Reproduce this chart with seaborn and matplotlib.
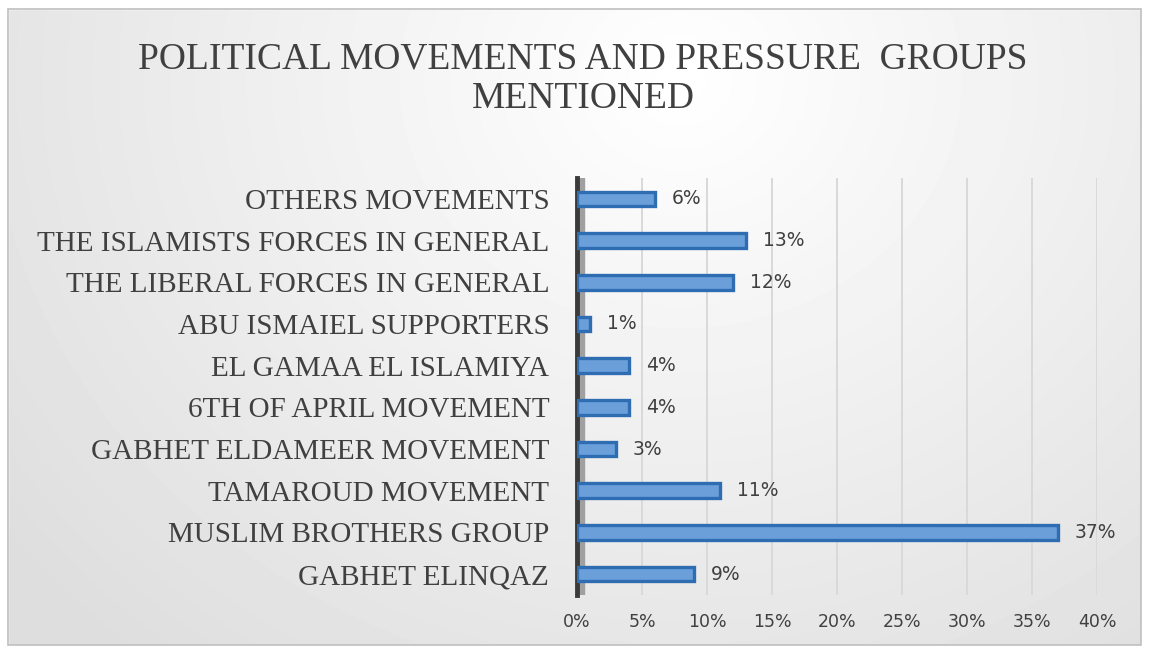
import numpy as np
import pandas as pd
import matplotlib
matplotlib.use("Agg")
import matplotlib.pyplot as plt
import seaborn as sns
from matplotlib.patches import Rectangle

# ---------- DATA ----------
GROUPS = [
    "OTHERS MOVEMENTS",
    "THE ISLAMISTS FORCES IN GENERAL",
    "THE LIBERAL FORCES IN GENERAL",
    "ABU ISMAIEL SUPPORTERS",
    "EL GAMAA EL ISLAMIYA",
    "6TH OF APRIL MOVEMENT",
    "GABHET ELDAMEER MOVEMENT",
    "TAMAROUD MOVEMENT",
    "MUSLIM BROTHERS GROUP",
    "GABHET ELINQAZ",
]
SHARES = [6, 13, 12, 1, 4, 4, 3, 11, 37, 9]
X_TICKS = [0, 5, 10, 15, 20, 25, 30, 35, 40]
TITLE = "POLITICAL MOVEMENTS AND PRESSURE  GROUPS\nMENTIONED"

df = pd.DataFrame({"group": GROUPS, "share": SHARES})

sns.set_theme(style="white")
plt.rcParams["font.family"] = ["Liberation Serif", "DejaVu Serif"]

W, H = 1149, 649
fig = plt.figure(figsize=(W / 100, H / 100), dpi=100)
fig.patch.set_facecolor("white")

# gradient background inside the border
bg = fig.add_axes([0, 0, 1, 1], zorder=-5)
yy, xx = np.mgrid[0:H, 0:W]
d = np.sqrt(((xx - 680) / 850.0) ** 2 + ((yy - 80) / 750.0) ** 2)
shade = 1.0 - 0.13 * np.clip(d, 0, 1)
bg.imshow(shade, cmap="gray", vmin=0, vmax=1, extent=[0, W, H, 0], aspect="auto")
bg.set_xlim(0, W)
bg.set_ylim(H, 0)
bg.add_patch(Rectangle((0, 0), W, 9, color="white"))
bg.add_patch(Rectangle((0, 645), W, 10, color="white"))
bg.add_patch(Rectangle((0, 0), 8, H, color="white"))
bg.add_patch(Rectangle((1141, 0), 10, H, color="white"))
bg.add_patch(Rectangle((8, 9), 1133, 636, fill=False, edgecolor="#bfbfbf", lw=1.2))
bg.axis("off")

ax = fig.add_axes([577 / W, 1 - 595 / H, 520 / W, 417 / H])
ax.set_facecolor("none")

sns.barplot(data=df, x="share", y="group", orient="h", ax=ax,
            color="#6a9fda", edgecolor="#2e6db2", linewidth=2.4, width=0.35,
            saturation=1, zorder=3)

ax.set_xlim(0, 40)
ax.set_ylim(9.5, -0.5)
ax.set_xticks(X_TICKS)
ax.set_xticklabels([f"{t}%" for t in X_TICKS], family="DejaVu Sans",
                   fontsize=12.5, color="#404040")
ax.tick_params(axis="x", length=0, pad=13)
ax.tick_params(axis="y", length=0, pad=20)
for lab in ax.get_yticklabels():
    lab.set_fontsize(21)
    lab.set_color("#404040")
    lab.set_family("Liberation Serif")
ax.set_xlabel("")
ax.set_ylabel("")

ax.grid(axis="x", color="#d9d9d9", lw=1.4, zorder=0)
for s in ["top", "right", "bottom"]:
    ax.spines[s].set_visible(False)
ax.spines["left"].set_color("#3a3a3a")
ax.spines["left"].set_linewidth(3.5)
ax.axvspan(0, 0.55, color="#a0a0a0", zorder=1)

for i, v in enumerate(SHARES):
    ax.annotate(f"{v}%", (v, i), xytext=(12, 0), textcoords="offset points",
                va="center", ha="left", fontsize=13.5, color="#404040",
                family="DejaVu Sans")

fig.text(583 / W, 1 - 79 / H, TITLE, ha="center", va="center", fontsize=27,
         color="#404040", linespacing=1.2)

fig.savefig("out.png", dpi=100)
